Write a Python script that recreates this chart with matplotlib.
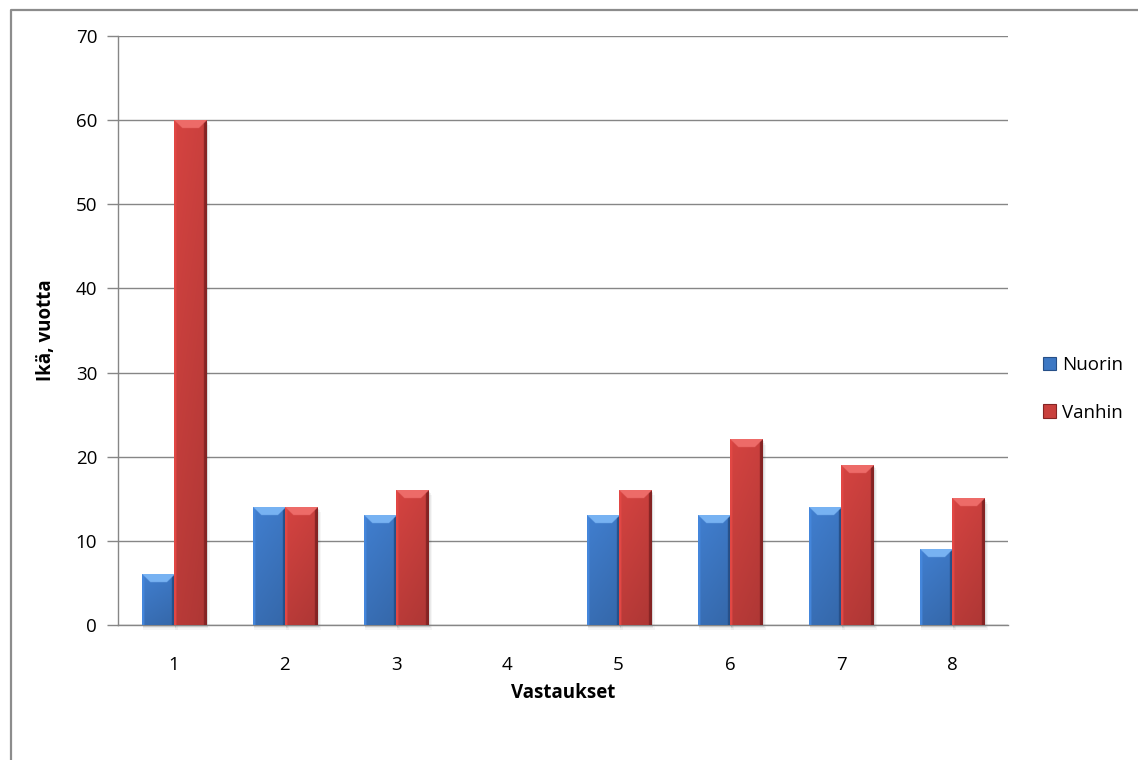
import numpy as np
import matplotlib
matplotlib.use("Agg")
import matplotlib.pyplot as plt
from matplotlib.patches import Rectangle, Patch
from matplotlib.lines import Line2D

categories = ["1", "2", "3", "4", "5", "6", "7", "8"]
nuorin = [6, 14, 13, 0, 13, 13, 14, 9]
vanhin = [60, 14, 16, 0, 16, 22, 19, 15]
series_names = ["Nuorin", "Vanhin"]
y_ticks = [0, 10, 20, 30, 40, 50, 60, 70]

plt.rcParams["font.family"] = ["Open Sans", "DejaVu Sans"]
fs = 13.5

W, H = 1138, 760
fig = plt.figure(figsize=(W / 100, H / 100), dpi=100)
ax = fig.add_axes([118 / W, 1 - 625 / H, (1008 - 118) / W, (625 - 36) / H])

ax.set_xlim(-0.5, len(categories) - 0.5)
ax.set_ylim(0, 70)

px_x = (1008 - 118) / len(categories)  # pixels per category
px_y = (625 - 36) / 70.0               # pixels per unit

bar_w = 0.288
colors = {
    "Nuorin": dict(base=np.array([0.24, 0.47, 0.77]), top=np.array([0.47, 0.70, 0.95]),
                   dark=np.array([0.15, 0.31, 0.53])),
    "Vanhin": dict(base=np.array([0.79, 0.25, 0.24]), top=np.array([0.93, 0.42, 0.41]),
                   dark=np.array([0.52, 0.14, 0.14])),
}


def shaded_bar(x0, h, pal):
    if h <= 0:
        return
    wpx = bar_w * px_x
    hpx = h * px_y
    nx = int(wpx * 3)
    ny = max(4, int(hpx * 3))
    xs = (np.arange(nx) + 0.5) / 3.0          # px from left
    ys = (np.arange(ny) + 0.5) / 3.0          # px from top
    X, Y = np.meshgrid(xs, ys)
    dl, dr, dt = X, wpx - X, Y
    frac_down = Y / hpx
    # body: light at top, slightly darker at bottom and towards right side
    shade = 1.06 - 0.14 * frac_down - 0.06 * (X / wpx)
    img = pal["base"][None, None, :] * shade[..., None]
    # left highlight strip
    m = dl < 2.5
    img[m] = np.minimum(1, pal["base"] * 1.12)
    # right dark strip
    m = dr < 3.0
    img[m] = pal["dark"]
    # top bevel (trapezoid with 45 degree corners)
    m = (dt < 8) & (dt < dl) & (dt < dr)
    img[m] = pal["top"]
    img = np.clip(img, 0, 1)
    # soft shadow
    for k, a in [(5, 0.035), (3, 0.05), (1.5, 0.07)]:
        ax.add_patch(Rectangle((x0 + 1.0 / px_x, -k / px_y), bar_w + k / px_x * 0.6, h,
                               facecolor="black", alpha=a, lw=0, clip_on=False, zorder=2))
    ax.imshow(img, extent=[x0, x0 + bar_w, 0, h], aspect="auto",
              interpolation="bilinear", zorder=3)


x = np.arange(len(categories))
for i in range(len(categories)):
    shaded_bar(x[i] - bar_w, nuorin[i], colors["Nuorin"])
    shaded_bar(x[i], vanhin[i], colors["Vanhin"])

ax.set_xlim(-0.5, len(categories) - 0.5)
ax.set_ylim(0, 70)
ax.set_aspect("auto")

grid_c = "#868686"
ax.set_yticks(y_ticks)
ax.yaxis.grid(True, color=grid_c, lw=1.0)
ax.set_axisbelow(True)
ax.set_xticks(x)
ax.set_xticklabels(categories)
ax.tick_params(axis="x", length=0, pad=22, labelsize=fs, colors="#000000")
ax.tick_params(axis="y", length=8, width=1.0, color=grid_c, pad=7, labelsize=fs)
for s in ["top", "right"]:
    ax.spines[s].set_visible(False)
ax.spines["left"].set_color(grid_c)
ax.spines["bottom"].set_color(grid_c)
ax.spines["left"].set_linewidth(1.0)
ax.spines["bottom"].set_linewidth(1.0)

ax.set_xlabel("Vastaukset", fontsize=fs, fontweight="bold", labelpad=7)
ax.set_ylabel("Ikä, vuotta", fontsize=fs, fontweight="bold", labelpad=14)

handles = [Patch(facecolor=colors[n]["base"], edgecolor=colors[n]["dark"], lw=0.8) for n in series_names]
ax.legend(handles, series_names, loc="center left", bbox_to_anchor=(1026 / W, 1 - 389 / H),
          bbox_transform=fig.transFigure, frameon=False, fontsize=fs,
          handlelength=0.7, handleheight=0.7, handletextpad=0.3, labelspacing=1.55)

# chart frame
fig.add_artist(Line2D([10.5 / W, 10.5 / W, 1.0], [0, 1 - 9.5 / H, 1 - 9.5 / H],
                      transform=fig.transFigure, color="#8C8C8C", lw=1.6))

fig.savefig("out.png", dpi=100)
